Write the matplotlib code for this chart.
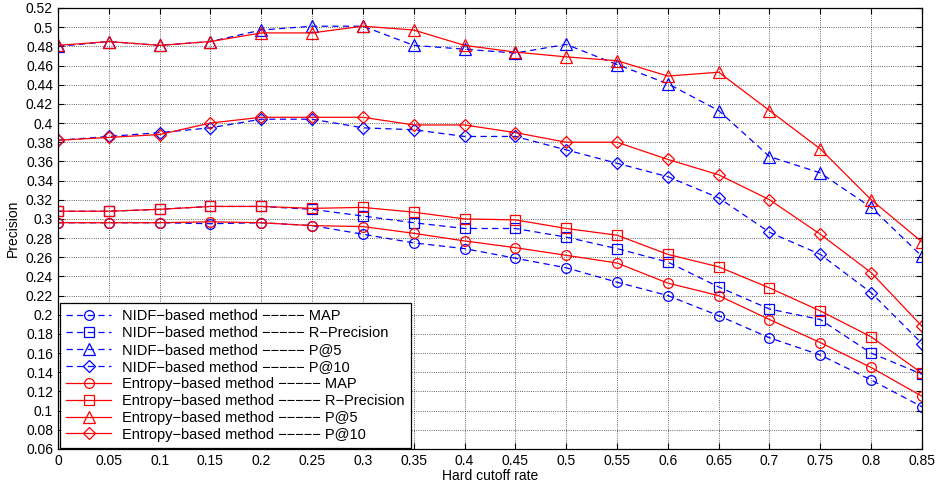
import matplotlib
matplotlib.use("Agg")
import matplotlib.pyplot as plt
import numpy as np

plt.rcParams['font.family'] = ['Liberation Sans', 'DejaVu Sans']

# hard cutoff rate
x = [0.0, 0.05, 0.1, 0.15, 0.2, 0.25, 0.3, 0.35, 0.4, 0.45,
     0.5, 0.55, 0.6, 0.65, 0.7, 0.75, 0.8, 0.85]

# NIDF-based method
nidf_map = [0.296, 0.296, 0.296, 0.295, 0.296, 0.293, 0.284, 0.275, 0.269, 0.259,
            0.249, 0.234, 0.220, 0.199, 0.176, 0.158, 0.132, 0.104]
nidf_rprec = [0.308, 0.308, 0.310, 0.313, 0.313, 0.310, 0.303, 0.296, 0.290, 0.290,
              0.281, 0.269, 0.255, 0.229, 0.206, 0.195, 0.160, 0.138]
nidf_p5 = [0.480, 0.485, 0.481, 0.485, 0.497, 0.501, 0.501, 0.481, 0.477, 0.473,
           0.482, 0.461, 0.441, 0.413, 0.365, 0.348, 0.312, 0.261]
nidf_p10 = [0.382, 0.386, 0.390, 0.395, 0.404, 0.404, 0.395, 0.393, 0.386, 0.386,
            0.372, 0.358, 0.344, 0.322, 0.286, 0.263, 0.223, 0.170]

# Entropy-based method
ent_map = [0.296, 0.296, 0.296, 0.297, 0.296, 0.293, 0.292, 0.285, 0.277, 0.270,
           0.262, 0.254, 0.233, 0.220, 0.195, 0.171, 0.145, 0.115]
ent_rprec = [0.308, 0.308, 0.310, 0.313, 0.313, 0.311, 0.312, 0.307, 0.300, 0.299,
             0.290, 0.283, 0.263, 0.250, 0.228, 0.204, 0.177, 0.139]
ent_p5 = [0.481, 0.485, 0.481, 0.485, 0.494, 0.494, 0.501, 0.497, 0.481, 0.474,
          0.469, 0.465, 0.449, 0.453, 0.413, 0.373, 0.320, 0.276]
ent_p10 = [0.382, 0.385, 0.388, 0.400, 0.406, 0.406, 0.406, 0.398, 0.398, 0.390,
           0.380, 0.380, 0.362, 0.346, 0.320, 0.284, 0.244, 0.188]

metrics = ['MAP', 'R\u2212Precision', 'P@5', 'P@10']
markers = ['o', 's', '^', 'D']
msizes = [7, 6.5, 8, 6]
nidf = [nidf_map, nidf_rprec, nidf_p5, nidf_p10]
ent = [ent_map, ent_rprec, ent_p5, ent_p10]

fig = plt.figure(figsize=(9.5, 4.9), dpi=100)
ax = fig.add_axes([0.061, 0.0837, 0.9095, 0.9])

for vals, m, ms, name in zip(nidf, markers, msizes, metrics):
    ax.plot(x, vals, color='blue', linestyle='--', dashes=(5, 3.5), lw=0.9,
            marker=m, ms=ms, mfc='none', mec='blue', mew=0.9,
            label='NIDF\u2212based method \u2212\u2212\u2212\u2212\u2212 ' + name)
for vals, m, ms, name in zip(ent, markers, msizes, metrics):
    ax.plot(x, vals, color='red', linestyle='-', lw=0.9,
            marker=m, ms=ms, mfc='none', mec='red', mew=0.9,
            label='Entropy\u2212based method \u2212\u2212\u2212\u2212\u2212 ' + name)

ax.set_xlim(0, 0.85)
ax.set_ylim(0.06, 0.52)
ax.set_xticks(np.arange(0, 0.851, 0.05))
ax.set_xticklabels(['0'] + ['%g' % v for v in np.arange(0.05, 0.851, 0.05)])
ax.set_yticks(np.arange(0.06, 0.521, 0.02))
ax.set_yticklabels(['%g' % round(v, 2) for v in np.arange(0.06, 0.521, 0.02)])
ax.tick_params(direction='in', top=True, right=True, labelsize=10, length=4, width=0.8)
ax.grid(True, color='black', linestyle=':', lw=0.6, alpha=0.8)
for s in ax.spines.values():
    s.set_linewidth(0.9)

ax.set_xlabel('Hard cutoff rate', fontsize=10, labelpad=1)
ax.set_ylabel('Precision', fontsize=10, labelpad=4)

leg = ax.legend(loc='lower left', bbox_to_anchor=(0.002, 0.002), borderaxespad=0,
                fontsize=10.5, labelspacing=0.2, handlelength=3.1, handletextpad=0.7,
                borderpad=0.45, fancybox=False, framealpha=1)
leg.get_frame().set_edgecolor('black')
leg.get_frame().set_linewidth(0.9)

fig.savefig('out.png', dpi=100)
